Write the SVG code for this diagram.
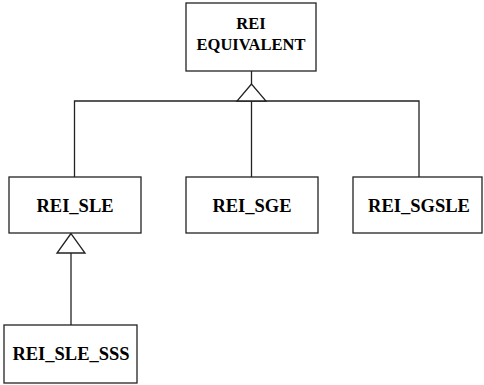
<svg xmlns="http://www.w3.org/2000/svg" width="484" height="385" viewBox="0 0 484 385">
<style>
.box{fill:#fff;stroke:#222;stroke-width:1.3}
.ln{fill:none;stroke:#222;stroke-width:1.3}
.tri{fill:#fff;stroke:#222;stroke-width:1.3}
text{font-family:"Liberation Serif","Times New Roman",serif;font-weight:bold;fill:#000;text-anchor:middle}
.t1{font-size:16.5px}
.t2{font-size:18.5px}
</style>
<g id="connectors">
<line class="ln" x1="251.5" y1="71" x2="251.5" y2="84"/>
<polyline class="ln" points="74.5,177 74.5,101 419,101 419,177"/>
<line class="ln" x1="251.5" y1="101" x2="251.5" y2="177"/>
<polygon class="tri" points="251.5,84 237,101 266,101"/>
<line class="ln" x1="71" y1="253" x2="71" y2="325"/>
<polygon class="tri" points="71,233.5 57,253 85,253"/>
</g>
<g id="rei_equivalent">
<rect class="box" x="186" y="3" width="130" height="68"/>
<text class="t1" x="251" y="29">REI</text>
<text class="t1" x="251" y="50">EQUIVALENT</text>
</g>
<g id="rei_sle">
<rect class="box" x="9" y="177" width="132" height="56"/>
<text class="t2" x="75" y="212">REI_SLE</text>
</g>
<g id="rei_sge">
<rect class="box" x="186" y="177" width="132" height="56"/>
<text class="t2" x="252" y="212">REI_SGE</text>
</g>
<g id="rei_sgsle">
<rect class="box" x="353" y="177" width="129" height="56"/>
<text class="t2" x="419" y="212">REI_SGSLE</text>
</g>
<g id="rei_sle_sss">
<rect class="box" x="4" y="325" width="133" height="58"/>
<text class="t2" x="71" y="360">REI_SLE_SSS</text>
</g>
</svg>
